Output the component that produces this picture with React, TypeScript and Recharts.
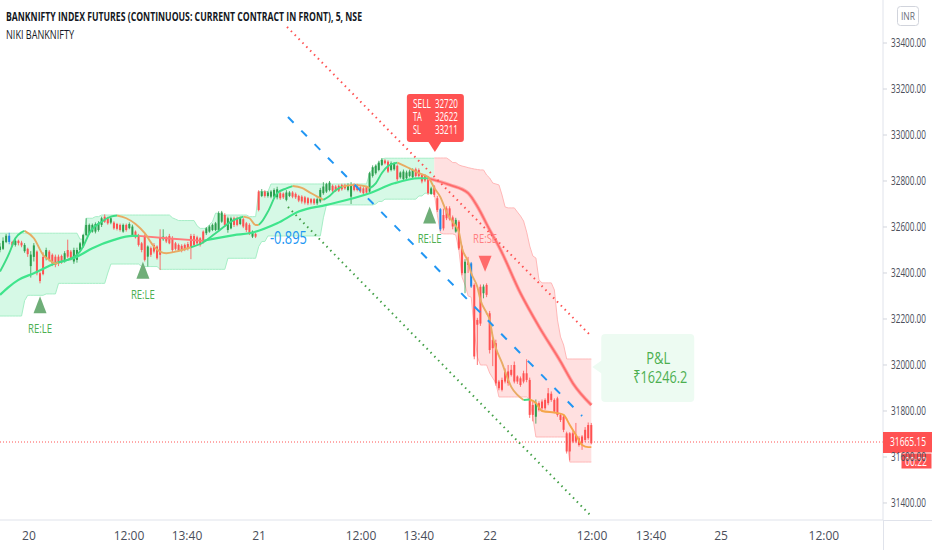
import React from "react";
import { ComposedChart, Bar, Line, Area, XAxis, YAxis, ReferenceLine, ReferenceDot } from "recharts";

const FONT = "'Liberation Sans Narrow', 'Open Sans', 'Noto Sans', sans-serif";
const UP = "#2e9e4f";
const DOWN = "#ff5252";
const BLUE = "#1e88e5";
const X_END = 286.7;

const title = "BANKNIFTY INDEX FUTURES (CONTINUOUS: CURRENT CONTRACT IN FRONT), 5, NSE";
const subtitle = "NIKI BANKNIFTY";
const priceTicks = [31400, 31600, 31800, 32000, 32200, 32400, 32600, 32800, 33000, 33200, 33400];
const timeTicks = [9.4, 41.9, 60.7, 84.1, 117.2, 136, 159.1, 192.2, 211.4, 234.1, 267.5];
const timeLabels = ["20", "12:00", "13:40", "21", "12:00", "13:40", "22", "12:00", "13:40", "25", "12:00"];
const blueBars = [3, 143, 153];

const opens = [
  32500,32505,32535,32562,32535,32522,32540,32532,32495,32505,
  32430,32470,32493,32399,32470,32465,32493,32479,32471,32471,
  32474,32455,32500,32493,32450,32457,32500,32515,32565,32573,
  32580,32580,32587,32609,32645,32638,32619,32619,32613,32609,
  32580,32609,32595,32565,32580,32561,32529,32561,32471,32508,
  32522,32515,32555,32547,32555,32561,32551,32529,32522,32518,
  32522,32526,32561,32561,32555,32551,32580,32573,32580,32587,
  32587,32587,32623,32652,32587,32594,32638,32638,32613,32634,
  32616,32609,32558,32570,32754,32735,32754,32735,32732,32732,
  32729,32747,32745,32718,32735,32750,32744,32735,32732,32729,
  32725,32721,32721,32703,32711,32747,32754,32761,32779,32776,
  32779,32783,32783,32761,32732,32786,32783,32773,32768,32773,
  32754,32822,32834,32848,32870,32889,32884,32848,32851,32866,
  32816,32808,32812,32822,32816,32851,32848,32826,32822,32816,
  32744,32776,32725,32677,32652,32681,32681,32642,32580,32623,
  32515,32399,32449,32442,32348,32196,32340,32312,32348,32225,
  32109,32095,31928,31935,31970,31972,31979,32000,31950,31942,
  31964,31964,31935,31826,31775,31834,31841,31848,31877,31875,
  31848,31855,31783,31775,31703,31703,31703,31696,31681,31689,
  31718,31739,31739,
];
const closes = [
  32515,32540,32562,32535,32520,32540,32530,32520,32522,32482,
  32480,32520,32399,32365,32395,32500,32460,32442,32435,32442,
  32450,32486,32471,32464,32500,32500,32529,32565,32609,32609,
  32609,32613,32616,32638,32623,32616,32638,32594,32592,32587,
  32609,32587,32613,32602,32555,32522,32500,32457,32515,32479,
  32493,32464,32479,32558,32537,32529,32500,32505,32500,32498,
  32500,32505,32510,32522,32529,32522,32534,32594,32602,32609,
  32616,32660,32663,32609,32638,32638,32609,32609,32638,32602,
  32587,32573,32580,32558,32674,32754,32735,32750,32754,32761,
  32764,32725,32729,32750,32750,32732,32729,32715,32711,32706,
  32703,32706,32703,32721,32761,32776,32786,32793,32758,32758,
  32758,32764,32768,32783,32783,32761,32761,32754,32747,32750,
  32834,32860,32866,32880,32892,32877,32841,32877,32874,32808,
  32837,32841,32837,32841,32848,32822,32822,32798,32802,32747,
  32768,32740,32674,32590,32594,32638,32634,32602,32631,32507,
  32399,32449,32435,32341,32037,32175,32180,32341,32305,32065,
  32073,31920,31899,31892,31928,31921,31957,31928,31928,31913,
  31928,31935,31783,31783,31834,31805,31812,31812,31834,31848,
  31797,31783,31761,31718,31624,31624,31667,31667,31652,31660,
  31674,31682,31660,
];
const highs = [
  32530,32555,32570,32575,32540,32550,32545,32540,32530,32510,
  32495,32530,32498,32405,32490,32510,32500,32485,32480,32480,
  32480,32495,32545,32500,32510,32510,32535,32570,32638,32615,
  32615,32620,32625,32645,32655,32645,32645,32625,32618,32615,
  32615,32615,32620,32610,32585,32570,32535,32568,32520,32515,
  32530,32520,32590,32590,32560,32570,32560,32535,32528,32525,
  32528,32535,32570,32570,32562,32556,32585,32600,32608,32615,
  32622,32668,32670,32660,32645,32645,32645,32645,32645,32640,
  32622,32616,32585,32575,32760,32765,32760,32756,32760,32768,
  32775,32752,32750,32760,32756,32756,32750,32740,32738,32735,
  32730,32726,32726,32728,32770,32795,32792,32800,32785,32782,
  32785,32788,32788,32790,32795,32790,32788,32778,32775,32778,
  32840,32868,32872,32888,32900,32895,32890,32885,32882,32872,
  32842,32850,32845,32850,32855,32858,32855,32832,32830,32822,
  32775,32782,32735,32682,32680,32690,32690,32650,32640,32630,
  32520,32460,32470,32448,32355,32205,32350,32350,32355,32235,
  32120,32110,31935,31945,31985,32000,32000,32015,31955,31950,
  31975,32025,31945,31840,31850,31842,31850,31855,31900,31885,
  31855,31862,31790,31785,31710,31708,31712,31748,31690,31695,
  31730,31750,31748,
];
const lows = [
  32490,32500,32530,32525,32512,32515,32520,32512,32488,32470,
  32380,32450,32390,32355,32390,32455,32450,32430,32425,32430,
  32440,32445,32465,32455,32440,32445,32495,32510,32560,32568,
  32575,32572,32580,32600,32618,32610,32612,32588,32585,32580,
  32575,32580,32590,32558,32550,32515,32490,32450,32428,32470,
  32485,32458,32413,32540,32530,32525,32490,32498,32492,32490,
  32495,32498,32460,32515,32520,32515,32528,32565,32575,32582,
  32582,32580,32618,32600,32575,32590,32600,32603,32608,32595,
  32578,32565,32552,32552,32668,32730,32728,32728,32725,32725,
  32720,32718,32722,32712,32730,32725,32722,32708,32702,32698,
  32695,32698,32696,32696,32705,32740,32748,32755,32750,32752,
  32752,32758,32762,32755,32700,32755,32755,32748,32740,32745,
  32748,32815,32828,32842,32865,32872,32835,32842,32845,32800,
  32810,32800,32805,32816,32810,32815,32815,32790,32795,32740,
  32740,32730,32665,32582,32585,32630,32628,32590,32575,32500,
  32390,32312,32400,32335,32025,32000,32170,32290,32295,32050,
  31995,31910,31890,31885,31920,31910,31950,31920,31918,31905,
  31920,31925,31770,31755,31745,31798,31805,31805,31825,31840,
  31790,31775,31752,31708,31615,31585,31660,31660,31645,31631,
  31665,31675,31655,
];

const greenUpper = [
  32573,32573,32573,32573,32573,32573,32573,32573,32573,32573,32573,32573,32573,
  32573,32573,32573,32573,32573,32573,32573,32573,32573,32573,32573,32573,32573,
  32547,32547,32638,32638,32638,32645,32645,
  32652,32652,32652,32652,32652,32652,32652,32652,32652,32652,32652,32652,
  32652,32652,32652,32652,32652,32652,32652,32652,32652,32652,32652,
  32640,32634,32628,32628,32628,32628,32628,32628,32605,32594,32594,32594,32610,32623,
  32660,32660,32652,32652,32652,32652,32652,32652,32652,32652,32652,32645,32645,32645,
  32754,32754,32754,32754,
  32787,32787,32787,32787,32787,32787,32787,32787,32787,32787,32787,32787,32787,32787,32787,32787,
  32787,32787,32787,32787,32787,32787,32787,32787,32787,32787,32787,32787,32787,32787,32787,32787,
  32834,32850,32865,32880,32895,
  32899,32899,32899,32899,32899,32899,32899,32899,32899,32899,32899,32899,32899,32899,32899,32899,32899,
];
const greenLower = [
  32213,32213,32213,32213,32213,32213,32213,32213,32280,
  32303,32303,32303,32303,32303,32303,32309,32309,32309,32309,
  32355,32355,32355,32355,32355,32355,32355,32355,32355,32355,32355,32355,32355,32355,32355,32355,
  32400,32439,32439,32439,32439,32439,32439,32439,32439,32439,32439,
  32428,32428,32428,32428,32428,32428,
  32416,32416,32416,32416,32416,32416,32416,32416,32416,32416,32416,
  32416,32416,32416,32416,32416,32416,32416,32416,32416,32416,32416,
  32464,32464,32464,32464,32464,32464,32464,32464,32464,32464,
  32515,32537,32537,
  32561,32561,32561,32561,32561,32561,32561,32561,32561,32561,32561,32561,32561,32561,32561,32561,32561,32561,
  32640,32696,32696,32696,32696,32696,32696,32696,32696,32696,32696,32696,32696,32696,32696,32696,32696,
  32700,32711,32711,32721,32721,32721,32721,32721,32721,32721,32721,32721,32721,32721,
  32735,32735,32747,32747,32747,32747,
];
const redStart = 141;
const redUpper = [
  32900,32900,32900,32900,32900,32891,32880,32880,32870,32865,32862,32858,32855,32852,32850,
  32848,32848,32826,32813,32791,32787,32783,32739,32687,32683,32683,32683,32665,32648,32626,
  32578,32517,32474,32465,32370,32357,32357,32357,32357,32326,32196,32122,32087,32026,
  32026,32026,32026,32026,32026,32026,32026,32026,
];
const redLower = [
  32748,32652,32574,32570,32570,32570,32570,32565,32500,32383,32348,32300,32295,32152,32035,
  32000,32000,32000,31965,31943,31922,31861,31861,31861,31861,31861,31861,31861,31861,31861,
  31861,31848,31774,31687,31687,31687,31687,31687,31687,31687,31687,31687,31687,31687,
  31578,31578,31578,31578,31578,31578,31578,31578,
];

const UP_FAST = "#3ddc84";
const DOWN_FAST = "#e8ab63";
const fastSegments: { color: string; pts: number[][] }[] = [
  { color: UP_FAST, pts: [[0,32406],[3,32486],[5,32551],[7,32577],[8,32583]] },
  { color: DOWN_FAST, pts: [[8,32583],[11,32551],[14,32479],[16,32457],[18,32441],[19,32445]] },
  { color: UP_FAST, pts: [[19,32445],[25,32479],[27,32515],[29,32573],[33,32623],[36,32645],[38,32650]] },
  { color: DOWN_FAST, pts: [[38,32650],[41,32638],[44,32613],[47,32573],[50,32515],[52,32493],[54,32486],[57,32493],[62,32512]] },
  { color: UP_FAST, pts: [[62,32512],[65,32526],[70,32573],[76,32631],[79,32645]] },
  { color: DOWN_FAST, pts: [[79,32645],[81,32638],[83,32609],[84,32609]] },
  { color: UP_FAST, pts: [[84,32609],[85,32623],[87,32667],[90,32747],[93,32768],[95,32778]] },
  { color: DOWN_FAST, pts: [[95,32778],[98,32770],[100,32755],[103,32732],[105,32718]] },
  { color: UP_FAST, pts: [[105,32718],[107,32735],[109,32760],[111,32775]] },
  { color: DOWN_FAST, pts: [[111,32775],[115,32783],[119,32776],[120,32768]] },
  { color: UP_FAST, pts: [[120,32768],[122,32790],[124,32835],[126,32865],[129,32880]] },
  { color: DOWN_FAST, pts: [[129,32880],[133,32855],[136,32834],[139,32817],[141,32770],[143,32730],[145,32665],[147,32622],[149,32578],[150,32509],[152,32448],[153,32400],[155,32339],[156,32283],[158,32226],[159,32196],[160,32122],[161,32074],[163,32009],[165,31935],[166,31905],[168,31870],[170,31848]] },
  { color: UP_FAST, pts: [[170,31848],[172,31850]] },
  { color: "#f5a54a", pts: [[172,31850],[174,31835],[176,31800],[181,31791],[183,31783],[185,31739],[187,31696],[189,31652],[191,31643],[192,31643]] },
];

const slowGreenA = [[0,32305],[3,32341],[6,32370],[11,32399],[18,32442],[25,32471],[30,32508],[37,32544],[43,32561],[45,32561]];
const slowGreenB = [[66,32540],[76,32565],[81,32573],[90,32616],[97,32667],[106,32696],[120,32747],[128,32790],[136,32812],[139,32812]];
const slowRedA = [[45,32561],[55,32550],[66,32540]];
const slowRedB = [[139,32812],[146,32783],[152,32747],[155,32689],[159,32587],[162,32515],[169,32312],[175,32167],[182,32015],[186,31921],[192,31826]];

const redTrend = [[93.2,33470],[191.6,32130]];
const blueTrend = [[93.5,33078],[189,31778]];
const greenTrend = [[93.5,32687],[191.6,31348]];

const signals = [
  { i: 13, price: 32260, label: "RE:LE", up: true },
  { i: 46.4, price: 32410, label: "RE:LE", up: true },
  { i: 139.5, price: 32650, label: "RE:LE", up: true },
  { i: 157.5, price: 32440, label: "RE:SE", up: false },
];

const lastPrice = 31665.15;
const lastPriceText = "31665.15";
const countdown = "00:22";
const slopeText = "-0.895";
const sellLines = [["SELL", "32720"], ["TA", "32622"], ["SL", "33211"]];
const pnlLabel = "P&L";
const pnlValue = "₹16246.2";

const candles = opens.map((o, i) => ({ i, o, c: closes[i], h: highs[i], l: lows[i], range: [lows[i], highs[i]] }));
const greenBand = greenUpper.map((u, i) => ({ i, band: [greenLower[i], u] }));
const redBand = redUpper.map((u, k) => ({ i: redStart + k, band: [redLower[k], u] }));
const toPts = (a: number[][]) => a.map(([i, p]) => ({ i, p }));

const Fit = ({ x, y, w, size, fill, weight, anchor, children }: any) => (
  <text x={x} y={y} textLength={w} lengthAdjust="spacingAndGlyphs" fontSize={size} fill={fill} fontWeight={weight}
    textAnchor={anchor} fontFamily={FONT}>{children}</text>
);

const Candle = (props: any) => {
  const { x, y, width, height, payload } = props;
  if (payload == null) return null;
  const { o, c, h, l, i } = payload;
  const ratio = height / Math.max(h - l, 1);
  const top = y + (h - Math.max(o, c)) * ratio;
  const bh = Math.max(Math.abs(o - c) * ratio, 1);
  const color = blueBars.includes(i) ? BLUE : c >= o ? UP : DOWN;
  const cx = x + width / 2;
  return (
    <g>
      <line x1={cx} x2={cx} y1={y} y2={y + height} stroke={color} strokeWidth={1} opacity={0.8} />
      <rect x={cx - 1} y={top} width={2} height={bh} fill={color} />
    </g>
  );
};

const SignalMark = (s: any) => (props: any) => {
  const { cx, cy } = props;
  const color = s.up ? "#6fae78" : "#ff6b6b";
  const pts = s.up
    ? `${cx},${cy - 9} ${cx - 6.5},${cy + 8} ${cx + 6.5},${cy + 8}`
    : `${cx - 6.5},${cy - 8} ${cx + 6.5},${cy - 8} ${cx},${cy + 8}`;
  const ty = s.up ? cy + 28 : cy - 21;
  return (
    <g>
      <polygon points={pts} fill={color} />
      <Fit x={cx - 12} y={ty} w={24} size={12} fill={s.up ? "#4caf50" : "#ff8080"}>{s.label}</Fit>
    </g>
  );
};

const PriceTag = (props: any) => {
  const { cx, cy } = props;
  return (
    <g>
      <rect x={cx} y={cy - 10} width={49} height={21} fill={DOWN} />
      <Fit x={cx + 7} y={cy + 4} w={36} size={12} fill="#fff">{lastPriceText}</Fit>
      <rect x={cx + 18} y={cy + 11} width={31} height={16} fill={DOWN} stroke="#fff" strokeWidth={1} />
      <Fit x={cx + 22} y={cy + 24} w={22} size={12} fill="#fff">{countdown}</Fit>
    </g>
  );
};

const SellBox = (props: any) => {
  const { cx, cy } = props;
  return (
    <g>
      <rect x={cx - 28} y={cy - 58} width={57} height={48} rx={3} fill={DOWN} />
      <polygon points={`${cx - 7},${cy - 11} ${cx + 7},${cy - 11} ${cx},${cy}`} fill={DOWN} />
      {sellLines.map(([a, b], k) => (
        <g key={a}>
          <text x={cx - 22} y={cy - 44 + k * 13} fontSize={12} fill="#fff" fontFamily={FONT}
            textLength={a === "SELL" ? 18 : a === "TA" ? 9 : 8} lengthAdjust="spacingAndGlyphs">{a}</text>
          <Fit x={cx} y={cy - 44 + k * 13} w={23} size={12} fill="#fff">{b}</Fit>
        </g>
      ))}
    </g>
  );
};

const PnlBox = (props: any) => {
  const { cx, cy } = props;
  return (
    <g>
      <polygon points={`${cx},${cy} ${cx + 10},${cy - 7} ${cx + 10},${cy + 7}`} fill="#edfbf2" />
      <rect x={cx + 9} y={cy - 33} width={93} height={68} rx={4} fill="#edfbf2" />
      <Fit x={cx + 54} y={cy - 3} w={24} size={16} fill="#4caf50">{pnlLabel}</Fit>
      <Fit x={cx + 41} y={cy + 16} w={54} size={17} fill="#4caf50">{pnlValue}</Fit>
    </g>
  );
};

const SlopeText = (props: any) => (
  <Fit x={props.cx - 18} y={props.cy + 6} w={37} size={18} fill="#2196f3">{slopeText}</Fit>
);

const YTick = (props: any) => (
  <g>
    <line x1={883} x2={887} y1={props.y} y2={props.y} stroke="#d1d4dc" />
    <Fit x={891} y={props.y + 4} w={35} size={12} fill="#4a4e5a">{props.payload.value.toFixed(2)}</Fit>
  </g>
);

const XTick = (props: any) => {
  const k = timeTicks.indexOf(props.payload.value);
  return (
    <text x={props.x} y={540} fontSize={12} fill="#4a4e5a" textAnchor="middle" fontFamily={FONT}>{timeLabels[k]}</text>
  );
};

const seg = (a: number[][]) => [{ x: a[0][0], y: a[0][1] }, { x: a[1][0], y: a[1][1] }] as any;

export default function App() {
  return (
    <div style={{ position: "absolute", left: 0, top: 0, width: 932, height: 550, background: "#fff", fontFamily: FONT, overflow: "hidden" }}>
      <ComposedChart width={932} height={550} data={candles} margin={{ top: 0, right: 0, bottom: 0, left: 0 }}>
        <XAxis dataKey="i" type="number" domain={[0, X_END]} ticks={timeTicks} allowDataOverflow interval={0}
          height={30} tick={<XTick />} tickLine={false} axisLine={{ stroke: "#e0e3eb" }} />
        <YAxis orientation="right" width={49} domain={[31326, 33587]} ticks={priceTicks} allowDataOverflow interval={0}
          tick={<YTick />} tickLine={false} axisLine={{ stroke: "#e0e3eb" }} />

        <Area data={greenBand} dataKey="band" type="linear" fill="#c8f7dd" fillOpacity={0.75} stroke="#a6eec6" strokeWidth={1} dot={false} activeDot={false} isAnimationActive={false} />
        <Area data={redBand} dataKey="band" type="linear" fill="#ffd5d5" fillOpacity={0.75} stroke="#ffb8b8" strokeWidth={1} dot={false} activeDot={false} isAnimationActive={false} />

        <ReferenceLine y={lastPrice} stroke="#ff5252" strokeDasharray="1 2" strokeWidth={1} />

        <Bar dataKey="range" barSize={3} shape={<Candle />} isAnimationActive={false} />

        <Line data={toPts(slowGreenA)} dataKey="p" type="monotone" stroke="#3fe58c" strokeWidth={2.2} dot={false} activeDot={false} isAnimationActive={false} />
        <Line data={toPts(slowGreenB)} dataKey="p" type="monotone" stroke="#3fe58c" strokeWidth={2.2} dot={false} activeDot={false} isAnimationActive={false} />
        <Line data={toPts(slowRedA)} dataKey="p" type="monotone" stroke="#ff7b7b" strokeWidth={1.8} dot={false} activeDot={false} isAnimationActive={false} />
        <Line data={toPts(slowRedB)} dataKey="p" type="monotone" stroke="#ffa8a8" strokeWidth={3.6} dot={false} activeDot={false} isAnimationActive={false} />
        <Line data={toPts(slowRedB)} dataKey="p" type="monotone" stroke="#ff6b6b" strokeWidth={1.8} dot={false} activeDot={false} isAnimationActive={false} />
        {fastSegments.map((s, k) => (
          <Line key={k} data={toPts(s.pts)} dataKey="p" type="monotone" stroke={s.color} strokeWidth={1.9} dot={false} activeDot={false} isAnimationActive={false} />
        ))}

        <ReferenceLine segment={seg(redTrend)} stroke="#ff5252" strokeWidth={2} strokeDasharray="1.5 4" ifOverflow="visible" />
        <ReferenceLine segment={seg(blueTrend)} stroke="#2196f3" strokeWidth={2} strokeDasharray="8 11" ifOverflow="visible" />
        <ReferenceLine segment={seg(greenTrend)} stroke="#43a047" strokeWidth={2} strokeDasharray="1.5 4" ifOverflow="visible" />

        {signals.map((s) => (
          <ReferenceDot key={s.i} x={s.i} y={s.price} r={0} ifOverflow="visible" shape={SignalMark(s)} />
        ))}
        <ReferenceDot x={93.5} y={32552} r={0} ifOverflow="visible" shape={SlopeText} />
        <ReferenceDot x={141.2} y={32926} r={0} ifOverflow="visible" shape={SellBox} />
        <ReferenceDot x={192.3} y={31991} r={0} ifOverflow="visible" shape={PnlBox} />
        <ReferenceDot x={X_END} y={lastPrice} r={0} ifOverflow="visible" shape={PriceTag} />
      </ComposedChart>

      <svg width={932} height={550} style={{ position: "absolute", left: 0, top: 0, pointerEvents: "none" }}>
        <Fit x={6} y={21} w={356} size={12} fill="#131722" weight={700}>{title}</Fit>
        <Fit x={6} y={39} w={68} size={12} fill="#131722">{subtitle}</Fit>
        <line x1={883} x2={932} y1={520.5} y2={520.5} stroke="#e0e3eb" />
        <line x1={883.5} x2={883.5} y1={520} y2={550} stroke="#e0e3eb" />
        <rect x={897.5} y={6.5} width={21} height={19} rx={3} fill="#fff" stroke="#d1d4dc" />
        <Fit x={901} y={20} w={14} size={11} fill="#6a6d78">INR</Fit>
      </svg>
    </div>
  );
}
